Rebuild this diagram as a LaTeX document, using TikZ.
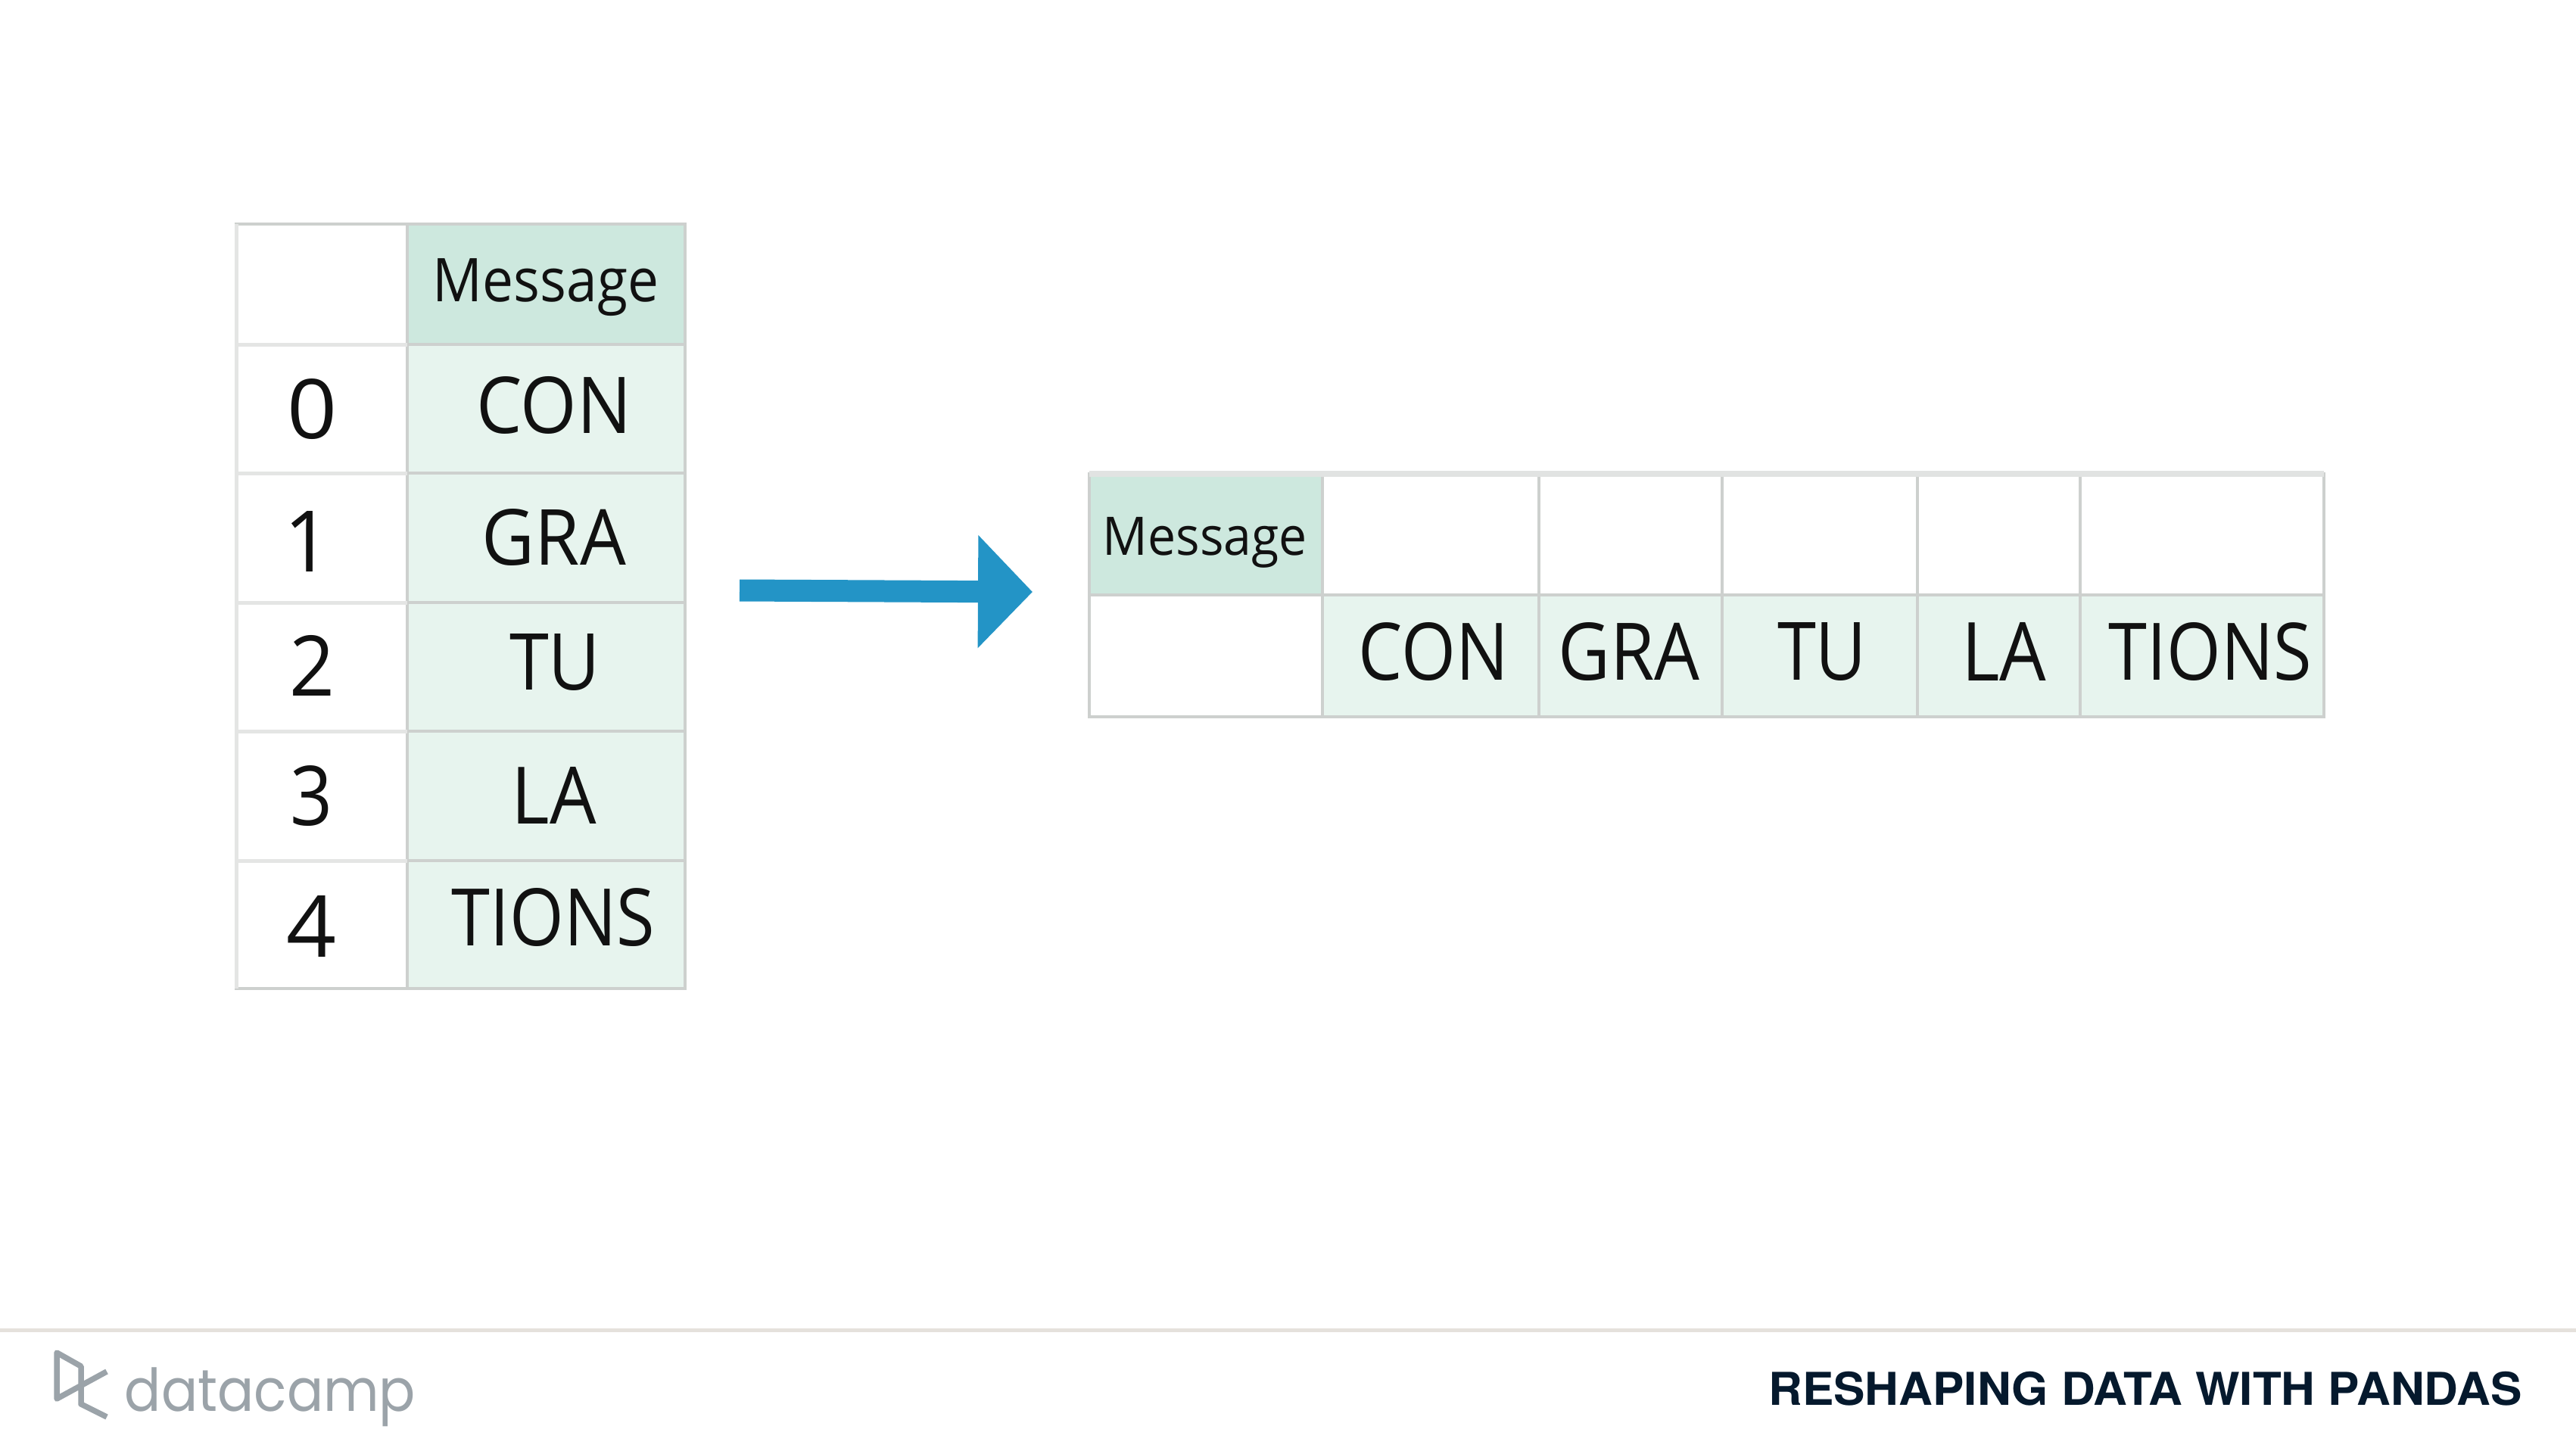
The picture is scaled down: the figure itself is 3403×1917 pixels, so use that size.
\documentclass[tikz,border=0pt]{standalone}
\usepackage{graphicx}
\usepackage{fontspec}
\usetikzlibrary{arrows.meta}
\setmainfont{Open Sans}
\newfontfamily\logofont{Poppins}
\newfontfamily\footfont[BoldFont=* Bold]{TeX Gyre Heros}
\definecolor{headgreen}{HTML}{CDE8DE}
\definecolor{cellgreen}{HTML}{E7F4EE}
\definecolor{gridgrey}{HTML}{CDD0CE}
\definecolor{arrowblue}{HTML}{2394C6}
\definecolor{logogrey}{HTML}{9BA3A9}
\definecolor{footline}{HTML}{E5E1DC}
\definecolor{footink}{HTML}{05192D}
\definecolor{ink}{HTML}{111111}
\tikzset{
  lbl/.style={inner sep=0pt,outer sep=0pt,anchor=center,text=ink},
  grid line/.style={draw=gridgrey,line width=3.5pt},
  soft line/.style={draw=gridgrey!55,line width=5pt},
}
% cx cy width totalheight name text
\newcommand{\tx}[6]{\node[lbl] (#5) at (#1,#2) {\resizebox*{#3pt}{#4pt}{#6}};}
\begin{document}
\begin{tikzpicture}[x=1pt,y=-1pt]
\useasboundingbox[fill=white] (0,0) rectangle (3403,1917);
% left table
\fill[headgreen] (538,296) rectangle (905,455);
\fill[cellgreen] (538,455) rectangle (905,1306);
\draw[grid line] (312,296) rectangle (905,1306);
\draw[grid line] (538,296) -- (538,1306);
\foreach \y in {455,625,796,966,1137} \draw[grid line] (538,\y) -- (905,\y);
\foreach \y in {455,625,796,966,1137} \draw[soft line] (312,\y) -- (538,\y);
\draw[soft line] (312,296) -- (312,1306);
% left table texts
\tx{721}{380}{298}{76}{lh}{Message}
\tx{413}{541}{66}{80}{i0}{0}
\tx{407}{715}{62}{80}{i1}{1}
\tx{413}{879}{60}{80}{i2}{2}
\tx{412}{1052}{56}{80}{i3}{3}
\tx{412}{1224}{66}{81}{i4}{4}
\tx{732}{535}{205}{76}{l0}{CON}
\tx{732}{710}{190}{75}{l1}{GRA}
\tx{733}{875}{120}{75}{l2}{TU}
\tx{732}{1051}{112}{75}{l3}{LA}
\tx{731}{1212}{268}{77}{l4}{TIONS}
% arrow
\coordinate (arrowstart) at (977,780);
\coordinate (arrowend) at (1364,782);
\draw[arrowblue,line width=29pt,-{Triangle[length=72pt,width=145pt]}] (arrowstart) -- (arrowend);
% right table
\fill[headgreen] (1439,626) rectangle (1747,786);
\fill[cellgreen] (1747,786) rectangle (3070,947);
\draw[grid line] (1439,626) rectangle (3070,947);
\draw[grid line] (1439,786) -- (3070,786);
\foreach \x in {1747,2033,2275,2533,2748} \draw[grid line] (\x,626) -- (\x,947);
\draw[draw=gridgrey!60,line width=8pt] (1439,626) -- (3070,626);
\tx{1592}{717}{270}{67}{rh}{Message}
\tx{1894}{861}{198}{77}{r0}{CON}
\tx{2152}{861}{187}{77}{r1}{GRA}
\tx{2407}{861}{118}{77}{r2}{TU}
\tx{2647}{861}{112}{77}{r3}{LA}
\tx{2920}{861}{268}{77}{r4}{TIONS}
% footer
\draw[footline,line width=5pt] (0,1757) -- (3403,1757);
\draw[logogrey,line width=7.5pt,line join=round] (141,1812) -- (75,1848) -- (75,1787) -- (107,1805) -- (107,1855) -- (141,1872);
\node[inner sep=0pt,text=logogrey] (logotext) at (357,1846) {\resizebox*{384pt}{78pt}{\logofont datacamp}};
\node[inner sep=0pt,text=footink] (foottext) at (2834,1835) {\resizebox*{995pt}{45pt}{\footfont\bfseries RESHAPING DATA WITH PANDAS}};
\end{tikzpicture}
\end{document}
